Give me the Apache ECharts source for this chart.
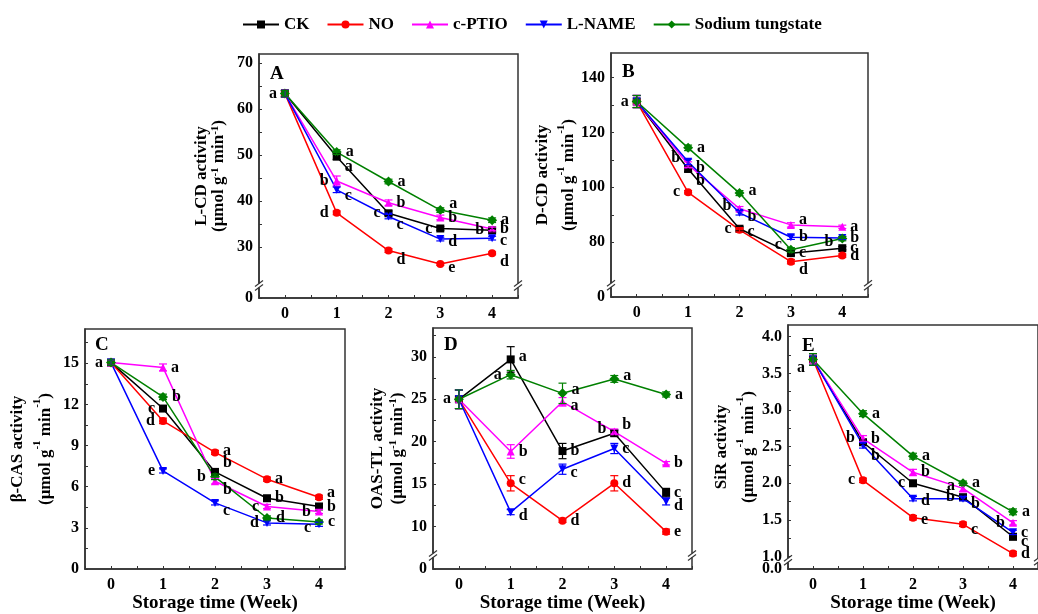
<!DOCTYPE html>
<html><head><meta charset="utf-8">
<script src="https://cdn.jsdelivr.net/npm/echarts@6/dist/echarts.min.js"></script>
<style>html,body{margin:0;padding:0;background:#fff}#c{width:1038px;height:614px}</style>
</head><body><div id="c"></div>
<script>
const weeks = [0, 1, 2, 3, 4];
const seriesNames = ['CK', 'NO', 'c-PTIO', 'L-NAME', 'Sodium tungstate'];

// Panel A: L-CD activity
const lcd_CK = [63.4, 49.7, 37.4, 34.1, 33.7];
const lcd_NO = [63.4, 37.5, 29.3, 26.4, 28.7];
const lcd_PT = [63.4, 44.4, 39.7, 36.5, 34.0];
const lcd_LN = [63.4, 42.5, 36.7, 31.8, 32.0];
const lcd_ST = [63.4, 50.7, 44.3, 38.1, 35.9];
const lcd_err = [[0.7,0.6,0.5,0.4,0.4],[0.7,0.4,0.4,0.3,0.3],[0.7,1.1,0.6,0.5,0.4],[0.7,0.6,0.5,0.4,0.4],[0.7,0.5,0.5,0.5,0.5]];
const lcd_letters = [['a','a','c','c','b'],['','d','d','e','d'],['','b','b','b','b'],['','c','c','d','c'],['','a','a','a','a']];

// Panel B: D-CD activity
const dcd_CK = [131.3, 106.7, 84.9, 76.0, 77.8];
const dcd_NO = [131.3, 98.2, 84.5, 72.9, 75.1];
const dcd_PT = [131.3, 108.3, 92.2, 86.3, 85.6];
const dcd_LN = [131.3, 109.3, 90.7, 81.8, 81.5];
const dcd_ST = [131.3, 114.4, 97.9, 77.2, 81.3];
const dcd_err = [[2.2,1.0,0.8,0.8,0.6],[2.2,0.6,0.8,0.8,0.6],[2.2,1.0,0.8,0.8,0.6],[2.2,1.0,0.8,0.8,0.6],[2.2,1.0,0.9,0.8,0.8]];
const dcd_letters = [['a','b','c','c','c'],['','c','c','d','d'],['','b','b','a','a'],['','b','b','b','b'],['','a','a','c','b']];

// Panel C: beta-CAS activity
const cas_CK = [15.05, 11.7, 7.08, 5.16, 4.56];
const cas_NO = [15.05, 10.8, 8.5, 6.55, 5.23];
const cas_PT = [15.05, 14.7, 6.4, 4.56, 4.2];
const cas_LN = [15.05, 7.15, 4.82, 3.36, 3.26];
const cas_ST = [15.05, 12.55, 6.72, 3.72, 3.43];
const cas_err = [[0.2,0.2,0.2,0.15,0.15],[0.2,0.2,0.15,0.15,0.15],[0.2,0.25,0.2,0.15,0.15],[0.2,0.15,0.15,0.15,0.15],[0.2,0.2,0.2,0.15,0.15]];
const cas_letters = [['a','c','b','b','b'],['','d','a','a','a'],['','a','b','c','b'],['','e','c','d','c'],['','b','b','d','c']];

// Panel D: OAS-TL activity
const oas_CK = [25.0, 29.7, 18.9, 21.0, 14.0];
const oas_NO = [25.0, 15.1, 10.7, 15.1, 9.4];
const oas_PT = [25.0, 18.85, 24.7, 21.2, 17.46];
const oas_LN = [25.0, 11.7, 16.76, 19.2, 12.95];
const oas_ST = [25.0, 27.9, 25.7, 27.4, 25.57];
const oas_err = [[1.1,1.5,0.9,0.35,0.5],[1.1,0.9,0.2,0.9,0.3],[1.1,0.8,0.5,0.3,0.2],[1.1,0.3,0.6,0.6,0.4],[1.1,0.5,1.2,0.4,0.3]];
const oas_letters = [['a','a','b','b','c'],['','c','d','d','e'],['','b','a','b','b'],['','d','c','c','d'],['','a','a','a','a']];

// Panel E: SiR activity
const sir_CK = [3.69, 2.56, 2.0, 1.81, 1.27];
const sir_NO = [3.69, 2.04, 1.53, 1.44, 1.04];
const sir_PT = [3.69, 2.61, 2.15, 1.93, 1.46];
const sir_LN = [3.69, 2.52, 1.79, 1.79, 1.33];
const sir_ST = [3.69, 2.95, 2.37, 2.0, 1.61];
const sir_err = [[0.08,0.03,0.03,0.03,0.04],[0.08,0.03,0.03,0.03,0.03],[0.08,0.04,0.04,0.04,0.03],[0.08,0.04,0.03,0.03,0.03],[0.08,0.04,0.04,0.03,0.04]];
const sir_letters = [['a','b','c','b','c'],['','c','e','c','d'],['','b','b','a','b'],['','b','d','b','c'],['','a','a','a','a']];

// Tick labels (y) per panel; broken axes also show an origin label at their bottom
const lcd_ticks = [30, 40, 50, 60, 70];
const dcd_ticks = [80, 100, 120, 140];
const cas_ticks = [0, 3, 6, 9, 12, 15];
const oas_ticks = [10, 15, 20, 25, 30];
const sir_ticks = [1.0, 1.5, 2.0, 2.5, 3.0, 3.5, 4.0];

// ---- layout / style (not data) ----
const colors = ['#000000', '#ff0000', '#ff00ff', '#0000ff', '#008000'];
const symbols = ['rect', 'circle', 'triangle', 'triangle', 'diamond'];
const rotates = [0, 0, 0, 180, 0];
const FONT = '"Liberation Serif","Times New Roman",serif';

const labelPos = {
  A: [['l','r+10','l','l','l'],['','l','r+9','r+4','r+9'],['','l','r','r','r'],['','r+6','r+8','r+3','r+3'],['','r','r','r-6','r']],
  B: [['l','r+12','l','r','r'],['','l','r+2','r+8','r'],['','r+3','l-3','r-5','r'],['','l-4','r+4','r','r'],['','r','r-2','l-5','l+3']],
  C: [['l','l','r-9','r','r'],['','l','r-2','r','r-4'],['','r','r+9','l','l'],['','l','r+8','l','l+4'],['','r','l','r','r']],
  D: [['l','r-3','r','l-4','r'],['','r-3','r','r','r'],['','r','r+4','r-7','r'],['','r+4','r+4','r','r+4'],['','l','r-3','r-3','r']],
  E: [['l+8','l-4','l','l','r+5'],['','l','r+2','r+6','r'],['','r','r','l-3','l'],['','r+11','r+2','r+5','r'],['','r','r','r','r']]
};

const panels = [
  {key:'A', vals:[lcd_CK,lcd_NO,lcd_PT,lcd_LN,lcd_ST], err:lcd_err, letters:lcd_letters, ticks:lcd_ticks,
   min:19, max:72, minor:5, brk:21.7, zeroLabel:'0', dec:0,
   grid:{left:259, top:54, width:259, height:244}, title:'L-CD activity', nameGap:32, lh:17, lx:265, ly:60},
  {key:'B', vals:[dcd_CK,dcd_NO,dcd_PT,dcd_LN,dcd_ST], err:dcd_err, letters:dcd_letters, ticks:dcd_ticks,
   min:60, max:149, minor:10, brk:64.3, zeroLabel:'0', dec:0,
   grid:{left:611, top:53, width:257, height:244}, title:'D-CD activity', nameGap:24, lh:26, lx:617, ly:58},
  {key:'C', vals:[cas_CK,cas_NO,cas_PT,cas_LN,cas_ST], err:cas_err, letters:cas_letters, ticks:cas_ticks,
   min:0, max:17.5, minor:1.5, brk:null, zeroLabel:null, dec:0,
   grid:{left:85, top:329, width:260, height:243}, title:'β-CAS activity', nameGap:25, lh:28, lx:90, ly:331},
  {key:'D', vals:[oas_CK,oas_NO,oas_PT,oas_LN,oas_ST], err:oas_err, letters:oas_letters, ticks:oas_ticks,
   min:5, max:33.4, minor:2.5, brk:6.6, zeroLabel:'0', dec:0,
   grid:{left:433, top:328, width:259, height:244}, title:'OAS-TL activity', nameGap:18, lh:20, lx:439, ly:331},
  {key:'E', vals:[sir_CK,sir_NO,sir_PT,sir_LN,sir_ST], err:sir_err, letters:sir_letters, ticks:sir_ticks,
   min:0.83, max:4.16, minor:0.25, brk:0.95, zeroLabel:'0.0', dec:1,
   grid:{left:788, top:325, width:259, height:246}, title:'SiR activity', nameGap:26, lh:27, lx:797, ly:332}
];

function parsePos(p) {
  const side = p[0] === 'l' ? 'left' : 'right';
  const dy = p.length > 1 ? parseFloat(p.slice(1)) : 0;
  return {position: side, offset: [0, dy], distance: 4};
}

const labelFont = {fontFamily: FONT, fontWeight: 'bold', fontSize: 16, color: '#000'};
const grids = [], xAxes = [], yAxes = [], series = [], titles = [];
panels.forEach((P, i) => {
  const bottomRow = i >= 2;
  grids.push(Object.assign({show: true, borderColor: '#333', borderWidth: 1.5, containLabel: false}, P.grid));
  xAxes.push({
    type: 'value', gridIndex: i, min: -0.5, max: 4.5,
    axisLine: {show: true, onZero: false, lineStyle: {color: '#333', width: 1.5}},
    axisTick: {show: true, inside: true, length: 3, customValues: [-0.5,0,0.5,1,1.5,2,2.5,3,3.5,4,4.5], lineStyle: {color: '#333'}},
    axisLabel: Object.assign({customValues: weeks, formatter: v => String(v), margin: 8}, labelFont),
    splitLine: {show: false},
    name: bottomRow ? 'Storage time (Week)' : '', nameLocation: 'middle', nameGap: 25,
    nameTextStyle: {fontFamily: FONT, fontWeight: 'bold', fontSize: 19, color: '#000'}
  });
  const tickVals = [];
  for (let v = P.ticks[0]; v <= P.max + 1e-9; v += P.minor) tickVals.push(+v.toFixed(3));
  if (P.zeroLabel) tickVals.push(P.min);
  P.yIndex = yAxes.length;
  yAxes.push({
    type: 'value', gridIndex: i, min: P.min, max: P.max,
    axisLine: {show: true, onZero: false, lineStyle: {color: '#333', width: 1.5}},
    axisTick: {show: true, inside: true, length: 3, customValues: tickVals, lineStyle: {color: '#333'}},
    axisLabel: Object.assign({customValues: P.ticks, margin: 6, showMinLabel: true, showMaxLabel: true,
      formatter: v => v.toFixed(P.dec)}, labelFont),
    splitLine: {show: false},
    name: '{t|' + P.title + '}\n{u|(μmol g}{s|-1}{u| min}{s|-1}{u|)}',
    nameLocation: 'middle', nameRotate: 90, nameGap: P.nameGap,
    nameTextStyle: {rich: {
      t: {fontFamily: FONT, fontWeight: 'bold', fontSize: 17, color: '#000', lineHeight: P.lh},
      u: {fontFamily: FONT, fontWeight: 'bold', fontSize: 17, color: '#000', lineHeight: P.lh},
      s: {fontFamily: FONT, fontWeight: 'bold', fontSize: 11, color: '#000', verticalAlign: 'top', lineHeight: P.lh, padding: [0, 0, 8, 0]}
    }}
  });
  if (P.zeroLabel) {
    // separate label-only axis for the origin label below the axis break
    yAxes.push({
      type: 'value', gridIndex: i, min: P.min, max: P.max, position: 'left',
      axisLine: {show: false}, axisTick: {show: false}, splitLine: {show: false},
      axisLabel: Object.assign({customValues: [P.min], margin: 6, showMinLabel: true, formatter: () => P.zeroLabel}, labelFont)
    });
  }
  titles.push({text: P.key, left: P.lx, top: P.ly, textStyle: {fontFamily: FONT, fontWeight: 'bold', fontSize: 19, color: '#000'}});

  P.vals.forEach((vals, s) => {
    const pos = labelPos[P.key][s];
    series.push({
      type: 'line', name: seriesNames[s], xAxisIndex: i, yAxisIndex: P.yIndex,
      symbol: symbols[s], symbolRotate: rotates[s], symbolSize: s === 4 ? 10 : 8,
      lineStyle: {color: colors[s], width: 1.5}, itemStyle: {color: colors[s]},
      z: 4, animation: false,
      label: labelFont,
      data: weeks.map((w, k) => {
        const L = P.letters[s][k];
        const item = {value: [w, vals[k]]};
        if (L) item.label = Object.assign({show: true, formatter: L}, parsePos(pos[k]));
        return item;
      })
    });
    const col = colors[s];
    series.push({
      type: 'custom', xAxisIndex: i, yAxisIndex: P.yIndex, z: 5, animation: false, silent: true,
      encode: {x: 0, y: [1, 2]},
      renderItem: (params, api) => {
        const x = api.value(0), lo = api.value(1), hi = api.value(2);
        const a = api.coord([x, lo]), b = api.coord([x, hi]);
        const hw = 4, st = {stroke: col, lineWidth: 1.2};
        return {type: 'group', children: [
          {type: 'line', shape: {x1: a[0], y1: a[1], x2: b[0], y2: b[1]}, style: st},
          {type: 'line', shape: {x1: a[0]-hw, y1: a[1], x2: a[0]+hw, y2: a[1]}, style: st},
          {type: 'line', shape: {x1: b[0]-hw, y1: b[1], x2: b[0]+hw, y2: b[1]}, style: st}
        ]};
      },
      data: weeks.map((w, k) => [w, vals[k] - P.err[s][k], vals[k] + P.err[s][k]])
    });
  });
});

const chart = echarts.init(document.getElementById('c'), null, {renderer: 'canvas'});
chart.setOption({
  animation: false,
  backgroundColor: '#fff',
  title: titles,
  legend: {
    data: seriesNames, top: 11, left: 237, itemWidth: 36, itemHeight: 10, itemGap: 17,
    textStyle: {fontFamily: FONT, fontWeight: 'bold', fontSize: 17, color: '#000'}
  },
  grid: grids, xAxis: xAxes, yAxis: yAxes, series: series
});

// axis-break marks
const gfx = [];
panels.forEach((P, i) => {
  if (P.brk == null) return;
  [-0.5, 4.5].forEach(xv => {
    const p = chart.convertToPixel({xAxisIndex: i, yAxisIndex: P.yIndex}, [xv, P.brk]);
    gfx.push({type: 'rect', shape: {x: p[0]-3, y: p[1]-2, width: 6, height: 4}, style: {fill: '#fff'}, z: 100});
    [-2, 2].forEach(d => gfx.push({type: 'line', shape: {x1: p[0]-4, y1: p[1]+d+3, x2: p[0]+4, y2: p[1]+d-3},
      style: {stroke: '#333', lineWidth: 1.2}, z: 101}));
  });
});
chart.setOption({graphic: gfx});
</script>
</body></html>
